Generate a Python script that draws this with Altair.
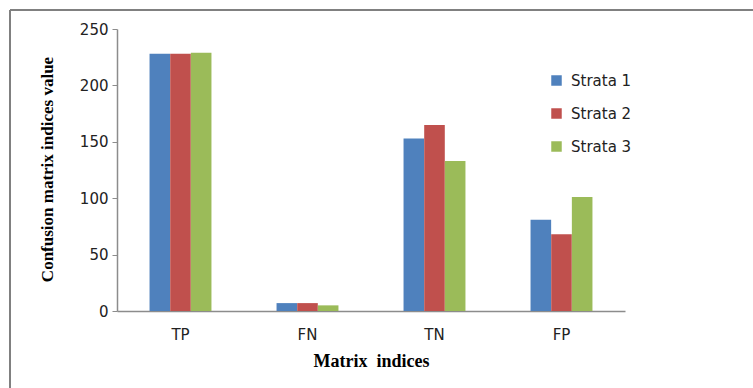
import altair as alt
import pandas as pd

# Confusion-matrix counts for each stratum
indices = ["TP", "FN", "TN", "FP"]
strata = ["Strata 1", "Strata 2", "Strata 3"]
strata1 = [228, 7, 153, 81]
strata2 = [228, 7, 165, 68]
strata3 = [229, 5, 133, 101]
y_ticks = [0, 50, 100, 150, 200, 250]

rows = []
for i, idx in enumerate(indices):
    for s, vals in zip(strata, [strata1, strata2, strata3]):
        rows.append({"index": idx, "stratum": s, "value": vals[i]})
df = pd.DataFrame(rows)

W, H = 508, 282
colors = ["#4F81BD", "#C0504D", "#9BBB59"]
tick_font = "DejaVu Sans"
title_font = "Liberation Serif"

bars = alt.Chart(df).mark_bar(size=20.6).encode(
    x=alt.X(
        "index:N",
        sort=indices,
        scale=alt.Scale(paddingInner=0.512, paddingOuter=0.256),
        axis=alt.Axis(
            title="Matrix\u00a0\u00a0indices",
            titleFont=title_font,
            titleFontSize=18,
            titleFontWeight="bold",
            titleColor="#000000",
            titleBaseline="middle",
            titleY=50,
            labelAngle=0,
            labelFont=tick_font,
            labelFontSize=15,
            labelColor="#222222",
            labelPadding=16,
            ticks=False,
            domainColor="#8c8c8c",
            domainWidth=1.5,
        ),
    ),
    xOffset=alt.XOffset("stratum:N", sort=strata),
    y=alt.Y(
        "value:Q",
        scale=alt.Scale(domain=[0, 250], nice=False),
        axis=alt.Axis(
            title="Confusion matrix indices value",
            titleFont=title_font,
            titleFontSize=17,
            titleFontWeight="bold",
            titleColor="#000000",
            titleBaseline="middle",
            titleX=-70,
            titleY=140,
            values=y_ticks,
            labelFont=tick_font,
            labelFontSize=15,
            labelColor="#222222",
            labelPadding=4,
            tickSize=5,
            tickColor="#8c8c8c",
            domainColor="#8c8c8c",
            domainWidth=1.5,
            grid=False,
        ),
    ),
    color=alt.Color(
        "stratum:N",
        sort=strata,
        scale=alt.Scale(domain=strata, range=colors),
        legend=alt.Legend(
            title=None,
            orient="none",
            legendX=432,
            legendY=44,
            symbolType="square",
            symbolSize=110,
            symbolStrokeWidth=0,
            labelFont=tick_font,
            labelFontSize=15,
            labelColor="#222222",
            labelOffset=7,
            rowPadding=17,
        ),
    ),
)

# Outer frame lines (top and left) around the figure
frame_df = pd.DataFrame({"k": [0]})
top_line = alt.Chart(frame_df).mark_rule(color="#808080", strokeWidth=2).encode(
    x=alt.value(-107), x2=alt.value(650), y=alt.value(-19)
)
left_line = alt.Chart(frame_df).mark_rule(color="#808080", strokeWidth=2).encode(
    x=alt.value(-107), y=alt.value(-19), y2=alt.value(380)
)

chart = (
    alt.layer(bars, top_line, left_line)
    .properties(
        width=W,
        height=H,
        autosize=alt.AutoSizeParams(type="none"),
        padding={"left": 117, "top": 29, "right": 753 - 117 - W, "bottom": 388 - 29 - H},
        background="white",
    )
    .configure_view(stroke=None)
)

chart.save("out.html", embed_options={"renderer": "svg", "actions": False})
